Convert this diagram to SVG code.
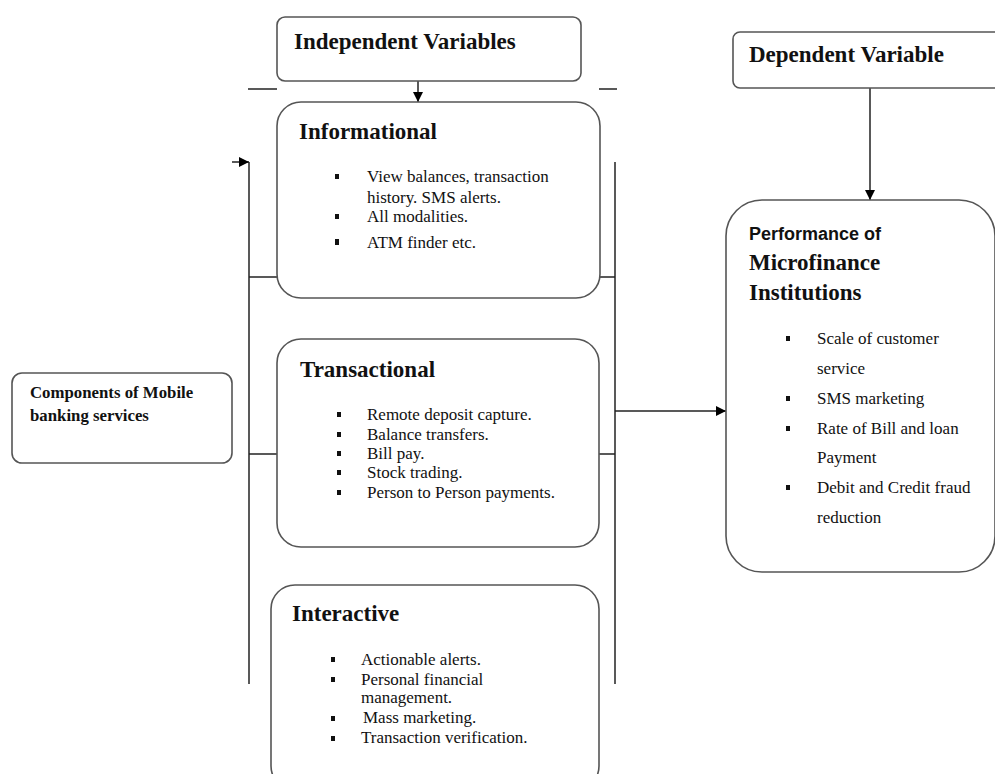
<svg xmlns="http://www.w3.org/2000/svg" width="995" height="774" viewBox="0 0 995 774">
<defs>
<marker id="arr" viewBox="0 0 10 10" refX="10" refY="5" markerWidth="10" markerHeight="10" markerUnits="userSpaceOnUse" orient="auto">
<path d="M0,0 L10,5 L0,10 z" fill="#000"/>
</marker>
<style>
.box{fill:#fff;stroke:#555;stroke-width:1.6}
.ln{stroke:#222;stroke-width:1.5;fill:none}
.h{font-family:"Liberation Serif",serif;font-weight:bold;fill:#111}
.t{font-family:"Liberation Serif",serif;font-size:17px;fill:#111}
.b{fill:#111}
</style>
</defs>
<rect width="995" height="774" fill="#fff"/>

<g id="connectors">
<line class="ln" x1="249" y1="162" x2="249" y2="684"/>
<line class="ln" x1="232" y1="162" x2="249" y2="162" marker-end="url(#arr)"/>
<line class="ln" x1="249" y1="277" x2="277" y2="277"/>
<line class="ln" x1="249" y1="454" x2="277" y2="454"/>
<line class="ln" x1="615" y1="162" x2="615" y2="684"/>
<line class="ln" x1="600" y1="277" x2="615" y2="277"/>
<line class="ln" x1="599" y1="454" x2="615" y2="454"/>
<line class="ln" x1="615" y1="411" x2="726" y2="411" marker-end="url(#arr)"/>
<line class="ln" x1="248" y1="89" x2="277" y2="89"/>
<line class="ln" x1="599" y1="89" x2="617" y2="89"/>
<line class="ln" x1="418" y1="81" x2="418" y2="102" marker-end="url(#arr)"/>
<line class="ln" x1="870" y1="88" x2="870" y2="200" marker-end="url(#arr)"/>
</g>

<g id="independent">
<rect class="box" x="277" y="17" width="304" height="64" rx="8"/>
<text class="h" x="294" y="49" font-size="23">Independent Variables</text>
</g>

<g id="informational">
<rect class="box" x="277" y="102" width="323" height="196" rx="24"/>
<text class="h" x="299" y="139" font-size="23">Informational</text>
<rect class="b" x="335" y="174" width="4" height="5"/>
<text class="t" x="367" y="182">View balances, transaction</text>
<text class="t" x="367" y="203">history. SMS alerts.</text>
<rect class="b" x="335" y="214" width="4" height="5"/>
<text class="t" x="367" y="222">All modalities.</text>
<rect class="b" x="335" y="239" width="4" height="6"/>
<text class="t" x="367" y="248">ATM finder etc.</text>
</g>

<g id="transactional">
<rect class="box" x="277" y="339" width="322" height="208" rx="24"/>
<text class="h" x="300" y="377" font-size="23">Transactional</text>
<rect class="b" x="337" y="412" width="4" height="5"/>
<text class="t" x="367" y="420">Remote deposit capture.</text>
<rect class="b" x="337" y="432" width="4" height="5"/>
<text class="t" x="367" y="440">Balance transfers.</text>
<rect class="b" x="337" y="451" width="4" height="5"/>
<text class="t" x="367" y="459">Bill pay.</text>
<rect class="b" x="337" y="470" width="4" height="5"/>
<text class="t" x="367" y="478">Stock trading.</text>
<rect class="b" x="337" y="490" width="4" height="5"/>
<text class="t" x="367" y="498">Person to Person payments.</text>
</g>

<g id="interactive">
<rect class="box" x="271" y="585" width="328" height="205" rx="24"/>
<text class="h" x="292" y="621" font-size="23">Interactive</text>
<rect class="b" x="331" y="657" width="4" height="5"/>
<text class="t" x="361" y="665">Actionable alerts.</text>
<rect class="b" x="331" y="677" width="4" height="5"/>
<text class="t" x="361" y="685">Personal financial</text>
<text class="t" x="361" y="703">management.</text>
<rect class="b" x="331" y="716" width="4" height="5"/>
<text class="t" x="363" y="723">Mass marketing.</text>
<rect class="b" x="331" y="736" width="4" height="5"/>
<text class="t" x="361" y="743">Transaction verification.</text>
</g>

<g id="components">
<rect class="box" x="12" y="373" width="220" height="90" rx="10"/>
<text class="h" x="30" y="398" font-size="16.8">Components of Mobile</text>
<text class="h" x="30" y="421" font-size="16.8">banking services</text>
</g>

<g id="dependent">
<rect class="box" x="733" y="32" width="270" height="56" rx="7"/>
<text class="h" x="749" y="62" font-size="23">Dependent Variable</text>
</g>

<g id="performance">
<rect class="box" x="726" y="200" width="269" height="372" rx="36"/>
<text x="749" y="240" font-family="'Liberation Sans',Arial,sans-serif" font-weight="bold" font-size="18" fill="#111">Performance of</text>
<text class="h" x="749" y="270" font-size="23">Microfinance</text>
<text class="h" x="749" y="300" font-size="23">Institutions</text>
<rect class="b" x="786" y="336" width="4" height="5"/>
<text class="t" x="817" y="344">Scale of customer</text>
<text class="t" x="817" y="374">service</text>
<rect class="b" x="786" y="396" width="4" height="5"/>
<text class="t" x="817" y="404">SMS marketing</text>
<rect class="b" x="786" y="426" width="4" height="5"/>
<text class="t" x="817" y="434">Rate of Bill and loan</text>
<text class="t" x="817" y="463">Payment</text>
<rect class="b" x="786" y="485" width="4" height="5"/>
<text class="t" x="817" y="493">Debit and Credit fraud</text>
<text class="t" x="817" y="523">reduction</text>
</g>
</svg>
